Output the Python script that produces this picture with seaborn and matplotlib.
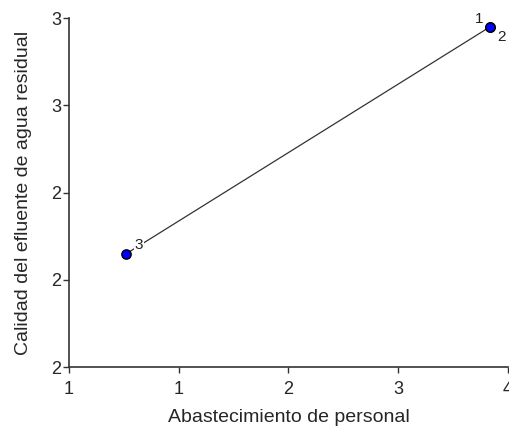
import numpy as np
import pandas as pd
import matplotlib
matplotlib.use("Agg")
import matplotlib.pyplot as plt
import seaborn as sns

# data
point_ids = ["1", "2", "3"]
abastecimiento = [3.67, 3.67, 1.02]
calidad = [2.78, 2.78, 2.26]

x_ticks = [0.6, 1.4, 2.2, 3.0, 3.8]
y_ticks = [2.0, 2.2, 2.4, 2.6, 2.8]

df = pd.DataFrame({"id": point_ids, "x": abastecimiento, "y": calidad})

sns.set_style("white")
plt.rcParams["font.family"] = ["Liberation Sans", "DejaVu Sans"]

fig = plt.figure(figsize=(5.1, 4.3), dpi=100)
ax = fig.add_axes([0.135, 0.1465, 0.861, 0.8115])

sns.lineplot(data=df.sort_values("x"), x="x", y="y", color="#333333",
             linewidth=0.9, ax=ax, zorder=1, estimator=None, sort=False)
sns.scatterplot(data=df, x="x", y="y", color="#0000ff", edgecolor="black",
                linewidth=1.0, s=45, ax=ax, zorder=3)

offsets = {"1": (-11, 3), "2": (5, -10), "3": (6, 3)}
for _, r in df.iterrows():
    dx, dy = offsets[r["id"]]
    ax.annotate(r["id"], (r["x"], r["y"]), xytext=(dx, dy),
                textcoords="offset points", fontsize=11, color="#222222",
                bbox=dict(facecolor="white", edgecolor="none", pad=0.5),
                zorder=2)

ax.set_xlim(x_ticks[0], x_ticks[-1])
ax.set_ylim(y_ticks[0], y_ticks[-1])
ax.set_xticks(x_ticks)
ax.set_yticks(y_ticks)
ax.set_xticklabels([f"{v:.0f}" for v in x_ticks])
ax.set_yticklabels([f"{v:.0f}" for v in y_ticks])

sns.despine(ax=ax)
for side in ["left", "bottom"]:
    ax.spines[side].set_color("#333333")
    ax.spines[side].set_linewidth(1.2)
ax.tick_params(axis="both", direction="out", length=4, width=1.0,
               color="#333333", labelsize=13, left=True, bottom=True)
ax.tick_params(axis="x", pad=6)
ax.tick_params(axis="y", pad=1.5)

ax.set_xlabel("Abastecimiento de personal", fontsize=14, labelpad=8)
ax.set_ylabel("Calidad del efluente de agua residual", fontsize=14, labelpad=14)

fig.savefig("out.png", dpi=100)
